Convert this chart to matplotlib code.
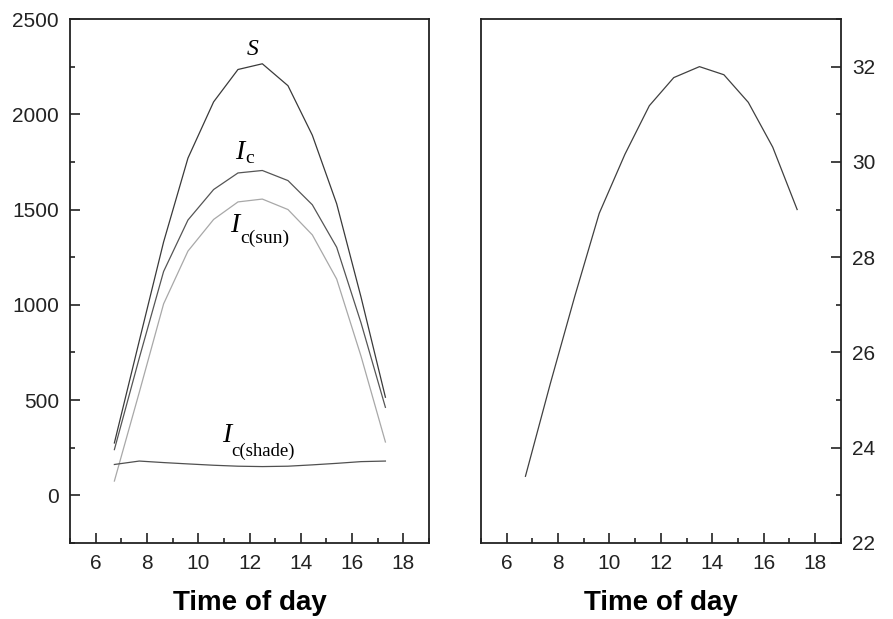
import numpy as np
import matplotlib
matplotlib.use("Agg")
import matplotlib.pyplot as plt
from matplotlib.ticker import MultipleLocator

plt.rcParams['font.family'] = ['Liberation Sans', 'DejaVu Sans']

# hours of the day (solar time)
hours = [6.73, 7.7, 8.65, 9.6, 10.6, 11.55, 12.5, 13.5, 14.45, 15.4, 16.35, 17.3]

# left panel: radiation terms
S = [275, 810, 1330, 1770, 2065, 2235, 2265, 2150, 1890, 1530, 1040, 515]
Ic = [240, 720, 1175, 1445, 1605, 1692, 1705, 1652, 1525, 1302, 905, 462]
Ic_sun = [75, 540, 1005, 1282, 1448, 1540, 1555, 1500, 1367, 1135, 730, 280]
Ic_shade = [162, 180, 172, 165, 158, 153, 151, 153, 160, 168, 177, 180]

# right panel: temperature
temp = [23.4, 25.35, 27.18, 28.92, 30.16, 31.18, 31.77, 32.0, 31.83, 31.25, 30.31, 29.0]

fig = plt.figure(figsize=(8.93, 6.19), dpi=100)
ax1 = fig.add_axes([0.0784, 0.1228, 0.402, 0.8465])
ax2 = fig.add_axes([0.5386, 0.1228, 0.403, 0.8465])

ax1.plot(hours, S, color='#3a3a3a', lw=0.9)
ax1.plot(hours, Ic, color='#555555', lw=0.9)
ax1.plot(hours, Ic_sun, color='#a8a8a8', lw=0.9)
ax1.plot(hours, Ic_shade, color='#505050', lw=0.9)

ax2.plot(hours, temp, color='#404040', lw=0.9)

serif = 'Liberation Serif'
ax1.text(12.12, 2310, 'S', family=serif, style='italic', fontsize=17, ha='center', va='baseline')
ax1.text(11.45, 1764, 'I', family=serif, style='italic', fontsize=20, ha='left', va='baseline')
ax1.text(11.84, 1744, 'c', family=serif, fontsize=14, ha='left', va='baseline')
ax1.text(11.25, 1383, 'I', family=serif, style='italic', fontsize=20, ha='left', va='baseline')
ax1.text(11.64, 1326, 'c(sun)', family=serif, fontsize=14, ha='left', va='baseline')
ax1.text(10.93, 282, 'I', family=serif, style='italic', fontsize=20, ha='left', va='baseline')
ax1.text(11.3, 207, 'c(shade)', family=serif, fontsize=13.5, ha='left', va='baseline')

ax1.set_xlim(5, 19)
ax1.set_ylim(-250, 2500)
ax2.set_xlim(5, 19)
ax2.set_ylim(22, 33)

for ax in (ax1, ax2):
    ax.xaxis.set_major_locator(MultipleLocator(2))
    ax.xaxis.set_minor_locator(MultipleLocator(1))
    ax.set_xlabel('Time of day', fontsize=20, fontweight='bold', labelpad=12)
    for sp in ax.spines.values():
        sp.set_linewidth(1.3)
        sp.set_color('#222222')

ax1.yaxis.set_major_locator(MultipleLocator(500))
ax1.yaxis.set_minor_locator(MultipleLocator(250))
ax2.yaxis.set_major_locator(MultipleLocator(2))
ax2.yaxis.set_minor_locator(MultipleLocator(1))
ax2.yaxis.tick_right()

for ax in (ax1, ax2):
    ax.tick_params(which='both', direction='in', width=1.2, colors='#222222',
                   labelsize=15, pad=8, top=False)
    ax.tick_params(which='major', length=7)
    ax.tick_params(which='minor', length=3.5)
ax1.tick_params(right=False)
ax2.tick_params(left=False, labelleft=False, right=True, labelright=True)

fig.savefig('out.png', dpi=100)
